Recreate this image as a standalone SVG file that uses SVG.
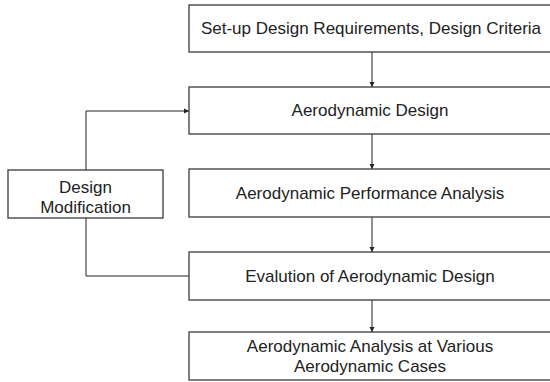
<svg xmlns="http://www.w3.org/2000/svg" width="550" height="382" viewBox="0 0 550 382">
<defs>
<style>
.box{fill:#ffffff;stroke:#3a3a3a;stroke-width:1.3}
.t{font-family:"Liberation Sans",Arial,sans-serif;font-size:17px;fill:#222;text-anchor:middle}
.c{fill:none;stroke:#222;stroke-width:1}
</style>
<marker id="ah" markerWidth="6" markerHeight="6" refX="5" refY="3" orient="auto" markerUnits="userSpaceOnUse">
<path d="M0,0.5 L5,3 L0,5.5 Z" fill="#222"/>
</marker>
</defs>
<rect width="550" height="382" fill="#ffffff"/>
<g id="connectors">
<line class="c" x1="372" y1="52" x2="372" y2="87" marker-end="url(#ah)"/>
<line class="c" x1="372" y1="134" x2="372" y2="169" marker-end="url(#ah)"/>
<line class="c" x1="372" y1="217" x2="372" y2="252" marker-end="url(#ah)"/>
<line class="c" x1="372" y1="300" x2="372" y2="332" marker-end="url(#ah)"/>
<polyline class="c" points="86,170 86,111 189,111" marker-end="url(#ah)"/>
<polyline class="c" points="86,218 86,276 189,276"/>
</g>
<g id="n1">
<rect class="box" x="189" y="5" width="365" height="47"/>
<text class="t" x="371" y="34">Set-up Design Requirements, Design Criteria</text>
</g>
<g id="n2">
<rect class="box" x="189" y="87" width="365" height="47"/>
<text class="t" x="370" y="116">Aerodynamic Design</text>
</g>
<g id="n3">
<rect class="box" x="189" y="169" width="365" height="48"/>
<text class="t" x="370" y="199">Aerodynamic Performance Analysis</text>
</g>
<g id="n4">
<rect class="box" x="189" y="252" width="365" height="48"/>
<text class="t" x="370" y="282">Evalution of Aerodynamic Design</text>
</g>
<g id="n5">
<rect class="box" x="189" y="332" width="365" height="48"/>
<text class="t" x="370" y="352">Aerodynamic Analysis at Various</text>
<text class="t" x="370" y="372">Aerodynamic Cases</text>
</g>
<g id="n6">
<rect class="box" x="8" y="170" width="155" height="48"/>
<text class="t" x="85.5" y="193">Design</text>
<text class="t" x="85.5" y="213">Modification</text>
</g>
</svg>
